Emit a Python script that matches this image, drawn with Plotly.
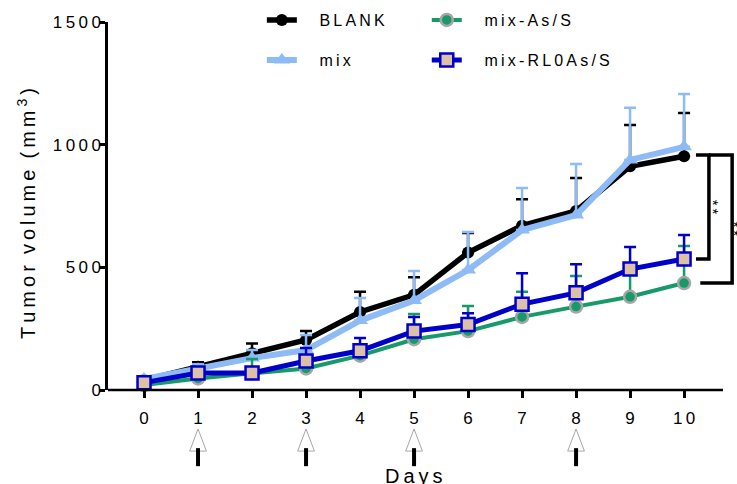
import plotly.graph_objects as go

# ---------------- data ----------------
days = [0, 1, 2, 3, 4, 5, 6, 7, 8, 9, 10]
blank = [40, 95, 150, 204, 318, 388, 560, 670, 730, 912, 953]
blank_sem = [10, 18, 40, 36, 82, 72, 80, 108, 134, 168, 176]
mix = [45, 85, 130, 163, 283, 365, 489, 652, 713, 938, 991]
mix_sem = [10, 20, 33, 61, 92, 120, 155, 171, 208, 212, 216]
mix_as = [20, 47, 68, 88, 140, 207, 240, 298, 340, 380, 436]
mix_as_sem = [5, 15, 58, 15, 20, 103, 102, 102, 125, 100, 151]
mix_rl = [30, 69, 69, 118, 160, 240, 267, 350, 396, 493, 534]
mix_rl_sem = [8, 15, 12, 53, 52, 58, 46, 126, 117, 90, 98]
dose_days = [1, 3, 5, 8]
y_ticks = [0, 500, 1000, 1500]

FONT = "Liberation Sans, Arial, sans-serif"
SP = "\u2009"


def track(s, sp=SP):
    return sp.join(list(s))


fig = go.Figure()


def add(name, y, sem, color, lw, marker, legend):
    fig.add_trace(go.Scatter(
        x=days, y=y, name="\u2002" + SP * 3 + track(name), mode="lines+markers",
        line=dict(color=color, width=lw),
        marker=marker,
        error_y=dict(type="data", symmetric=False, array=sem,
                     arrayminus=[0] * len(sem), color=color,
                     thickness=2.5, width=6),
        cliponaxis=False, legend=legend,
    ))


add("BLANK", blank, blank_sem, "#000000", 5.5,
    dict(symbol="circle", size=12, color="#000000"), "legend")
add("mix", mix, mix_sem, "#8EBBF5", 6,
    dict(symbol="triangle-up", size=14, color="#8EBBF5"), "legend2")
add("mix-As/S", mix_as, mix_as_sem, "#17996A", 4,
    dict(symbol="circle", size=12, color="#17996A",
         line=dict(color="#A6A6A6", width=2.5)), "legend3")
add("mix-RL0As/S", mix_rl, mix_rl_sem, "#0000C8", 5,
    dict(symbol="square", size=13, color="#DCC0A8",
         line=dict(color="#0000C8", width=2.5)), "legend4")

XMIN, XMAX = -0.667, 10.98
shapes = []
# x axis line (ends before right edge)
shapes.append(dict(type="line", xref="paper", yref="paper",
                   x0=0, x1=(10.72 - XMIN) / (XMAX - XMIN), y0=0, y1=0,
                   line=dict(color="black", width=2.5)))
# dosing arrows
hw = 0.155
for d in dose_days:
    shapes.append(dict(type="path", xref="x", yref="paper",
                       path=f"M {d - hw},-0.166 L {d},-0.106 L {d + hw},-0.166 Z",
                       line=dict(color="#A8A8A8", width=1), fillcolor="white"))
    shapes.append(dict(type="line", xref="x", yref="paper",
                       x0=d, x1=d, y0=-0.158, y1=-0.207,
                       line=dict(color="black", width=4)))
# significance brackets
top = blank[-1] + 5
shapes.append(dict(type="path", xref="x", yref="y",
                   path=f"M 10.22,{top} L 10.46,{top} L 10.46,{mix_rl[-1]} L 10.22,{mix_rl[-1]}",
                   line=dict(color="black", width=3.5)))
shapes.append(dict(type="path", xref="x", yref="y",
                   path=f"M 10.46,{top} L 10.89,{top} L 10.89,{mix_as[-1]} L 10.30,{mix_as[-1]}",
                   line=dict(color="black", width=3.5)))

annotations = [
    dict(text=track("**"), x=10.54, y=746, xref="x", yref="y", showarrow=False,
         textangle=90, font=dict(size=15, family=FONT, color="black")),
    dict(text=track("**"), x=10.94, y=655, xref="x", yref="y", showarrow=False,
         textangle=90, font=dict(size=15, family=FONT, color="black")),
    dict(text=track("Days"), x=5, y=-0.235, xref="x", yref="paper",
         showarrow=False, yanchor="middle",
         font=dict(size=20, family=FONT, color="black")),
    dict(text=track("Tumor") + "  " + track("volume") + "  " + track("(mm") + SP + "<sup>3</sup>" + SP + ")",
         x=(26 - 108) / 629, y=(390 - 214) / 368, xref="paper", yref="paper",
         showarrow=False, textangle=-90, xanchor="center", yanchor="middle",
         font=dict(size=20, family=FONT, color="black")),
]

leg_common = dict(orientation="h", xanchor="left", yanchor="middle",
                  font=dict(size=16, family=FONT), bgcolor="rgba(0,0,0,0)")
col1, col2 = 0.2446, 0.5068
row1, row2 = (390 - 20) / 368, (390 - 60) / 368

fig.update_layout(
    width=737, height=484,
    margin=dict(l=108, r=0, t=22, b=94, autoexpand=False),
    paper_bgcolor="white", plot_bgcolor="white",
    font=dict(family=FONT, color="black", size=17),
    showlegend=True,
    legend=dict(x=col1, y=row1, **leg_common),
    legend2=dict(x=col1, y=row2, **leg_common),
    legend3=dict(x=col2, y=row1, **leg_common),
    legend4=dict(x=col2, y=row2, **leg_common),
    xaxis=dict(range=[XMIN, XMAX], tickmode="array", tickvals=days,
               ticktext=[track(str(d)) for d in days],
               showline=False, showgrid=False, zeroline=False,
               ticks="outside", ticklen=7, tickwidth=2.5, tickcolor="black",
               ticklabelstandoff=6,
               tickfont=dict(size=17, family=FONT, color="black")),
    yaxis=dict(range=[0, 1500], tickmode="array", tickvals=y_ticks,
               ticktext=[track(str(v)) for v in y_ticks],
               showline=True, linewidth=2.5, linecolor="black",
               showgrid=False, zeroline=False,
               ticks="outside", ticklen=6, tickwidth=2.5, tickcolor="black",
               ticklabelstandoff=-5,
               tickfont=dict(size=17, family=FONT, color="black")),
    shapes=shapes, annotations=annotations,
)

fig.write_html("out.html", config={"displayModeBar": False},
               post_script="document.body.style.margin='0';document.body.style.overflow='hidden';")
